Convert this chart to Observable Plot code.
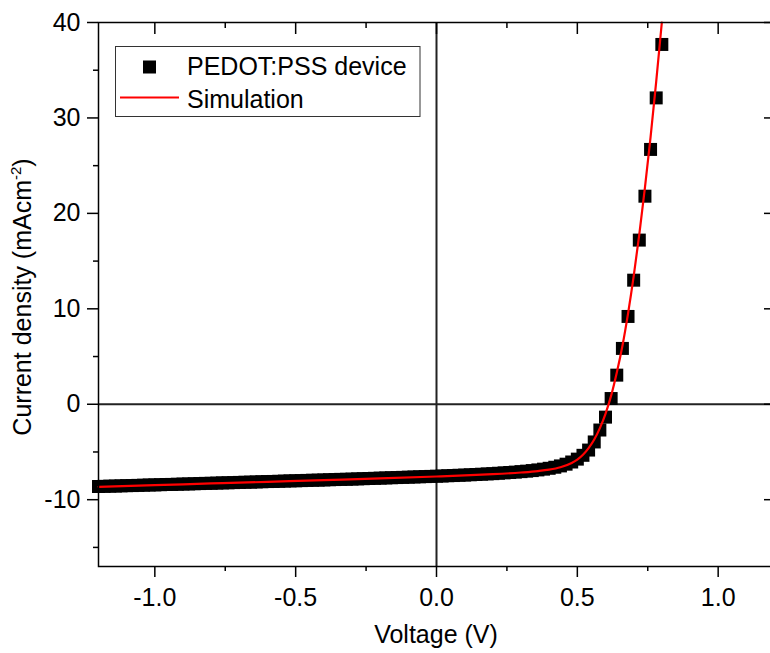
<!DOCTYPE html>
<html>
<head>
<meta charset="utf-8">
<script src="https://cdn.jsdelivr.net/npm/d3@7"></script>
<script src="https://cdn.jsdelivr.net/npm/@observablehq/plot@0.6"></script>
<style>
  html, body { margin: 0; padding: 0; background: white; overflow: hidden; }
  #chart svg { display: block; }
</style>
</head>
<body>
<div id="chart"></div>
<script>
// Measured data: PEDOT:PSS device (voltage in V, current density in mA/cm^2)
const measuredV = [
  -1.20, -1.18, -1.16, -1.14, -1.12, -1.10, -1.08, -1.06, -1.04, -1.02,
  -1.00, -0.98, -0.96, -0.94, -0.92, -0.90, -0.88, -0.86, -0.84, -0.82,
  -0.80, -0.78, -0.76, -0.74, -0.72, -0.70, -0.68, -0.66, -0.64, -0.62,
  -0.60, -0.58, -0.56, -0.54, -0.52, -0.50, -0.48, -0.46, -0.44, -0.42,
  -0.40, -0.38, -0.36, -0.34, -0.32, -0.30, -0.28, -0.26, -0.24, -0.22,
  -0.20, -0.18, -0.16, -0.14, -0.12, -0.10, -0.08, -0.06, -0.04, -0.02,
   0.00,  0.02,  0.04,  0.06,  0.08,  0.10,  0.12,  0.14,  0.16,  0.18,
   0.20,  0.22,  0.24,  0.26,  0.28,  0.30,  0.32,  0.34,  0.36,  0.38,
   0.40,  0.42,  0.44,  0.46,  0.48,  0.50,  0.52,  0.54,  0.56,  0.58,
   0.60,  0.62,  0.64,  0.66,  0.68,  0.70,  0.72,  0.74,  0.76,  0.78,
   0.80
];
const measuredJ = [
  -8.62, -8.60, -8.58, -8.57, -8.55, -8.53, -8.52, -8.50, -8.48, -8.46,
  -8.45, -8.43, -8.41, -8.40, -8.38, -8.36, -8.35, -8.33, -8.31, -8.29,
  -8.28, -8.26, -8.24, -8.23, -8.21, -8.19, -8.17, -8.16, -8.14, -8.12,
  -8.10, -8.09, -8.07, -8.05, -8.03, -8.02, -8.00, -7.98, -7.96, -7.95,
  -7.93, -7.91, -7.89, -7.87, -7.86, -7.84, -7.82, -7.80, -7.78, -7.76,
  -7.74, -7.72, -7.70, -7.68, -7.66, -7.64, -7.62, -7.60, -7.58, -7.56,
  -7.54, -7.52, -7.49, -7.47, -7.44, -7.42, -7.39, -7.36, -7.33, -7.30,
  -7.27, -7.23, -7.19, -7.15, -7.11, -7.06, -7.01, -6.95, -6.88, -6.80,
  -6.71, -6.60, -6.46, -6.28, -6.05, -5.75, -5.35, -4.80, -3.95, -2.70,
  -1.35,  0.60,  3.05,  5.85,  9.20, 13.00, 17.20, 21.80, 26.70, 32.10,
  37.70
];

// Simulation curve
const simV = [-1.2, -1.0, -0.8, -0.6, -0.4, -0.2, 0.0, 0.1, 0.2, 0.3, 0.36, 0.4, 0.44, 0.48,
  0.50, 0.52, 0.54, 0.56, 0.58, 0.60, 0.62, 0.64, 0.66, 0.68, 0.70, 0.72, 0.74, 0.76, 0.78, 0.80];
const simJ = [-8.65, -8.48, -8.30, -8.13, -7.95, -7.77, -7.57, -7.46, -7.33, -7.15, -7.00, -6.85, -6.60, -6.15,
  -5.80, -5.30, -4.60, -3.70, -2.50, -1.00, 0.90, 3.30, 6.10, 9.50, 13.40, 17.80, 22.70, 28.00, 33.80, 40.00];

// Axis ticks
const xMajor = [-1.0, -0.5, 0.0, 0.5, 1.0];
const xMinor = [-0.75, -0.25, 0.25, 0.75];
const yMajor = [-10, 0, 10, 20, 30, 40];
const yMinor = [-15, -5, 5, 15, 25, 35];

const seriesNames = ["PEDOT:PSS device", "Simulation"];
const xTitle = "Voltage (V)";
const yTitleMain = "Current density (mAcm";
const yTitleSup = "-2";
const yTitleEnd = ")";

const measured = measuredV.map((v, i) => ({V: v, J: measuredJ[i]}));
const sim = simV.map((v, i) => ({V: v, J: simJ[i]}));

const FONT = "'Liberation Sans', Arial, sans-serif";
const noText = () => "";
const ax = {stroke: "#000", strokeWidth: 1.5, label: null};

const chart = Plot.plot({
  width: 770,
  height: 653,
  marginLeft: 98,
  marginRight: -4,
  marginTop: 22,
  marginBottom: 87,
  style: {fontFamily: FONT, fontSize: "25px", color: "#000", background: "white"},
  x: {domain: [-1.2, 1.2]},
  y: {domain: [-17, 40]},
  marks: [
    Plot.ruleX([0], {stroke: "#222", strokeWidth: 2}),
    Plot.ruleY([0], {stroke: "#222", strokeWidth: 2}),
    Plot.dot(measured, {x: "V", y: "J", symbol: "square", r: 7.33, fill: "black", stroke: null}),
    Plot.line(sim, {x: "V", y: "J", stroke: "#ff0000", strokeWidth: 2.2, curve: "monotone-x"}),
    // bottom axis
    Plot.axisX(xMajor, {...ax, anchor: "bottom", tickSize: 11, tickPadding: 11, fontSize: 25,
      tickFormat: d => d.toFixed(1)}),
    Plot.axisX(xMinor, {...ax, anchor: "bottom", tickSize: 5, tickFormat: noText}),
    // top mirror (inward)
    Plot.axisX(xMajor, {...ax, anchor: "top", tickSize: 11, dy: 11, tickFormat: noText}),
    Plot.axisX(xMinor, {...ax, anchor: "top", tickSize: 5, dy: 5, tickFormat: noText}),
    // left axis
    Plot.axisY(yMajor, {...ax, anchor: "left", tickSize: 11, tickPadding: 7, fontSize: 25,
      tickFormat: d => String(d)}),
    Plot.axisY(yMinor, {...ax, anchor: "left", tickSize: 5, tickFormat: noText}),
    // right mirror (inward)
    Plot.axisY(yMajor, {...ax, anchor: "right", tickSize: 11, dx: -11, tickFormat: noText}),
    Plot.axisY(yMinor, {...ax, anchor: "right", tickSize: 5, dx: -5, tickFormat: noText}),
    Plot.frame({stroke: "#000", strokeWidth: 1.5})
  ]
});

document.getElementById("chart").appendChild(chart);

const svg = d3.select(chart);

// Axis titles
svg.append("text")
  .attr("x", 436).attr("y", 643)
  .attr("text-anchor", "middle")
  .attr("font-family", FONT).attr("font-size", 25).attr("fill", "#000")
  .text(xTitle);

const yt = svg.append("text")
  .attr("transform", "translate(31,297) rotate(-90)")
  .attr("text-anchor", "middle")
  .attr("font-family", FONT).attr("font-size", 25).attr("fill", "#000");
yt.append("tspan").text(yTitleMain);
yt.append("tspan").attr("font-size", 15).attr("dy", -10).text(yTitleSup);
yt.append("tspan").attr("dy", 10).text(yTitleEnd);

// Legend
const lg = svg.append("g").attr("font-family", FONT).attr("font-size", 25)
  .attr("fill", "#000").attr("text-anchor", "start");
lg.append("rect").attr("x", 115.5).attr("y", 46.5).attr("width", 304.5).attr("height", 70)
  .attr("fill", "white").attr("stroke", "#333").attr("stroke-width", 1);
lg.append("rect").attr("x", 143).attr("y", 60.5).attr("width", 13).attr("height", 13).attr("fill", "black");
lg.append("text").attr("x", 187).attr("y", 75).attr("text-anchor", "start").text(seriesNames[0]);
lg.append("line").attr("x1", 120).attr("x2", 179).attr("y1", 97.5).attr("y2", 97.5)
  .attr("stroke", "#ff0000").attr("stroke-width", 2);
lg.append("text").attr("x", 187).attr("y", 108).attr("text-anchor", "start").text(seriesNames[1]);
</script>
</body>
</html>
